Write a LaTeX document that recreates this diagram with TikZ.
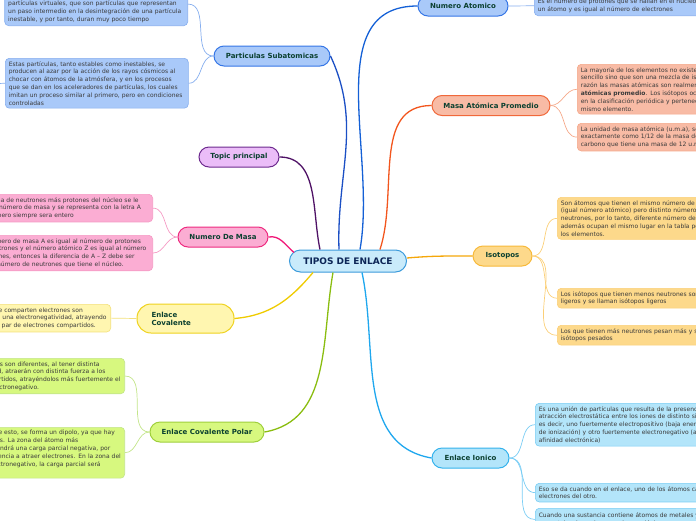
\documentclass[tikz,border=0pt]{standalone}
\usepackage{fontspec}
\setmainfont{DejaVu Sans}
\usepackage{xcolor}

\definecolor{centralfill}{HTML}{C9EBFB}
\definecolor{centralline}{HTML}{3C9BDB}
\definecolor{centraltext}{HTML}{0D2657}
\definecolor{titletext}{HTML}{0B4030}
\definecolor{notetext}{HTML}{3A3A3A}
\definecolor{psfill}{HTML}{A9C9F9}
\definecolor{psline}{HTML}{3576E6}
\definecolor{psbranch}{HTML}{1B4FC4}
\definecolor{pstwig}{HTML}{86AEEE}
\definecolor{nabranch}{HTML}{1460D6}
\definecolor{mafill}{HTML}{F8BBA5}
\definecolor{maline}{HTML}{F0683A}
\definecolor{mabranch}{HTML}{F2561E}
\definecolor{matwig}{HTML}{F5A889}
\definecolor{isofill}{HTML}{FDD98B}
\definecolor{isoline}{HTML}{F7B93A}
\definecolor{isobranch}{HTML}{F5A70A}
\definecolor{isotwig}{HTML}{FBCF78}
\definecolor{ionfill}{HTML}{B3E5FA}
\definecolor{ionline}{HTML}{34B2EC}
\definecolor{ionbranch}{HTML}{1FA7EE}
\definecolor{iontwig}{HTML}{7ACDF4}
\definecolor{tpfill}{HTML}{EBBDF8}
\definecolor{tpline}{HTML}{6D2A8E}
\definecolor{tpbranch}{HTML}{4F1266}
\definecolor{nmfill}{HTML}{FBADD3}
\definecolor{nmline}{HTML}{EE2A7F}
\definecolor{nmbranch}{HTML}{F01878}
\definecolor{nmtwig}{HTML}{F59AC4}
\definecolor{ecfill}{HTML}{FFF6B0}
\definecolor{ecline}{HTML}{EFD21E}
\definecolor{ecbranch}{HTML}{EFCB00}
\definecolor{ectwig}{HTML}{F3E07A}
\definecolor{cpfill}{HTML}{D7F87F}
\definecolor{cpline}{HTML}{9FCF3C}
\definecolor{cpbranch}{HTML}{8ABD10}
\definecolor{cptwig}{HTML}{C3E58A}

\begin{document}
\begin{tikzpicture}[x=1pt,y=-1pt]
\tikzset{topic/.style = {draw, rounded corners=10pt, line width=1pt, minimum height=20pt,
	inner sep=2pt, font=\fontsize{7}{8}\selectfont\bfseries, text=titletext}}
\tikzset{note/.style = {draw, rounded corners=4pt, line width=0.6pt, text width=176pt,
	align=left, inner xsep=3.5pt, inner ysep=3pt, font=\fontsize{6}{7.8}\selectfont, text=notetext}}
\tikzset{branch/.style = {-, line width=1.3pt}}
\tikzset{twig/.style = {-, line width=0.7pt}}
\useasboundingbox (0,0) rectangle (696,520);
\clip (0,0) rectangle (696,520);

% central topic
\node[topic, fill=centralfill, draw=centralline, text=centraltext, minimum width=117pt,
	minimum height=22pt, rounded corners=11pt, font=\fontsize{9}{10}\selectfont\bfseries] (tipos) at (348,261) {TIPOS DE ENLACE};

% main topics
\node[topic, fill=psfill, draw=psline, minimum width=116pt] (subat) at (272,56) {Particulas Subatomicas};
\node[topic, fill=psfill, draw=psline, minimum width=90pt] (natom) at (463,6) {Numero Atomico};
\node[topic, fill=mafill, draw=maline, minimum width=118pt] (masa) at (491,105.5) {Masa Atómica Promedio};
\node[topic, fill=isofill, draw=isoline, minimum width=59pt] (isot) at (502.5,256) {Isotopos};
\node[topic, fill=ionfill, draw=ionline, minimum width=77pt] (ionico) at (470.5,458) {Enlace Ionico};
\node[topic, fill=tpfill, draw=tpline, minimum width=80pt] (tprin) at (239,157) {Topic principal};
\node[topic, fill=nmfill, draw=nmline, minimum width=90pt] (nmasa) at (223,237) {Numero De Masa};
\node[topic, fill=ecfill, draw=ecline, minimum width=97pt, minimum height=29pt, rounded corners=14pt,
	text width=68pt, align=left] (coval) at (185.5,318.5) {Enlace\\Covalente};
\node[topic, fill=cpfill, draw=cpline, minimum width=114pt] (polar) at (207,432) {Enlace Covalente Polar};

% notes
\node[note, fill=psfill, draw=pstwig, anchor=south east] (ps1) at (188,26) {Además de estas partículas, que son estables,\\
existen otras partículas inestables, y las llamadas\\
partículas virtuales, que son partículas que representan\\
un paso intermedio en la desintegración de una partícula\\
inestable, y por tanto, duran muy poco tiempo};
\node[note, fill=psfill, draw=pstwig, anchor=north west] (ps2) at (5,58) {Estas partículas, tanto estables como inestables, se\\
producen al azar por la acción de los rayos cósmicos al\\
chocar con átomos de la atmósfera, y en los procesos\\
que se dan en los aceleradores de partículas, los cuales\\
imitan un proceso similar al primero, pero en condiciones\\
controladas};
\coordinate (psstub) at (-14,84);
\node[note, fill=psfill, draw=pstwig, anchor=south west] (na1) at (534,16) {Es el número de protones que se hallan en el núcleo de\\
un átomo y es igual al número de electrones};
\node[note, fill=mafill, draw=matwig, anchor=north west] (ma1) at (577,64) {La mayoría de los elementos no existen como un isótopo\\
sencillo sino que son una mezcla de isótopos. Por esta\\
razón las masas atómicas son realmente \textbf{masas}\\
\textbf{atómicas promedio}. Los isótopos ocupan el mismo\\
en la clasificación periódica y pertenecen al\\
mismo elemento.};
\node[note, fill=mafill, draw=matwig, anchor=north west] (ma2) at (577,123) {La unidad de masa atómica (u.m.a), se define\\
exactamente como 1/12 de la masa de un átomo de\\
carbono que tiene una masa de 12 u.m.a.};
\node[note, fill=isofill, draw=isotwig, anchor=north west] (is1) at (557,197) {Son átomos que tienen el mismo número de protones\\
(igual número atómico) pero distinto número de\\
neutrones, por lo tanto, diferente número de masa,\\
además ocupan el mismo lugar en la tabla periódica de\\
los elementos.};
\node[note, fill=isofill, draw=isotwig, anchor=north west] (is2) at (557,288) {Los isótopos que tienen menos neutrones son más\\
ligeros y se llaman isótopos ligeros};
\node[note, fill=isofill, draw=isotwig, anchor=north west] (is3) at (557,325) {Los que tienen más neutrones pesan más y se llaman\\
isótopos pesados};
\node[note, fill=ionfill, draw=iontwig, anchor=north west] (ei1) at (535,403) {Es una unión de partículas que resulta de la presencia de\\
atracción electrostática entre los iones de distinto signo,\\
es decir, uno fuertemente electropositivo (baja energía\\
de ionización) y otro fuertemente electronegativo (alta\\
afinidad electrónica)};
\node[note, fill=ionfill, draw=iontwig, anchor=north west] (ei2) at (535,483) {Eso se da cuando en el enlace, uno de los átomos capta\\
electrones del otro.};
\node[note, fill=ionfill, draw=iontwig, anchor=north west, inner ysep=4.5pt] (ei3) at (535,508) {Cuando una sustancia contiene átomos de metales y\\
no metales, los enlaces suelen ser iónicos.};
\node[note, fill=nmfill, draw=nmtwig, anchor=north east] (nm1) at (153,194) {Si la suma de neutrones más protones del núcleo se le\\
llama el número de masa y se representa con la letra A\\
este número siempre sera entero};
\node[note, fill=nmfill, draw=nmtwig, anchor=north east] (nm2) at (153,235) {Si el número de masa A es igual al número de protones\\
más neutrones y el número atómico Z es igual al número\\
de protones, entonces la diferencia de A – Z debe ser\\
igual al número de neutrones que tiene el núcleo.};
\node[note, fill=ecfill, draw=ectwig, anchor=north east] (ec1) at (111,304) {Cuando los átomos que comparten electrones son\\
iguales, ambos poseen una electronegatividad, atrayendo\\
con la misma fuerza el par de electrones compartidos.};
\node[note, fill=cpfill, draw=cptwig, anchor=north east] (cp1) at (125,358) {Cuando los átomos son diferentes, al tener distinta\\
electronegatividad, atraerán con distinta fuerza a los\\
electrones compartidos, atrayéndolos más fuertemente el\\
elemento más electronegativo.};
\node[note, fill=cpfill, draw=cptwig, anchor=north east] (cp2) at (125,427) {Como resultado de esto, se forma un dipolo, ya que hay\\
dos polos opuestos. La zona del átomo más\\
electronegativo tendrá una carga parcial negativa, por\\
tener mayor tendencia a atraer electrones. En la zona del\\
átomo menos electronegativo, la carga parcial será\\
positiva.};

% branches
\draw[branch, psbranch] (subat.east) edge[out=-65, in=92] ([xshift=-9pt]tipos.north);
\draw[branch, nabranch] (natom.west) edge[out=180, in=80] ([xshift=12pt]tipos.north);
\draw[branch, mabranch] (masa.west) edge[out=180, in=72] ([xshift=32pt]tipos.north);
\draw[branch, isobranch] (isot.west) edge[out=180, in=5] ([yshift=3pt]tipos.east);
\draw[branch, ionbranch] (ionico.west) edge[out=170, in=-78] ([xshift=14pt]tipos.south);
\draw[branch, tpbranch] (tprin.east) edge[out=0, in=102] ([xshift=-28pt]tipos.north);
\draw[branch, nmbranch] (nmasa.east) edge[out=10, in=140] ([xshift=5pt,yshift=-3pt]tipos.north west);
\draw[branch, ecbranch] (coval.east) edge[out=5, in=-130] ([xshift=-35pt]tipos.south);
\draw[branch, cpbranch] (polar.east) edge[out=10, in=-100] ([xshift=-15pt]tipos.south);

% twigs
\draw[twig, pstwig] (subat.west) edge[out=180, in=0] (ps1.east);
\draw[twig, pstwig] (subat.west) edge[out=180, in=0] (ps2.east);
\draw[twig, pstwig] (ps2.west) -- (psstub);
\draw[twig, pstwig] (natom.east) edge (na1.west);
\draw[twig, matwig] (masa.east) edge[out=0, in=180] (ma1.west);
\draw[twig, matwig] (masa.east) edge[out=0, in=180] (ma2.west);
\draw[twig, isotwig] (isot.east) edge[out=0, in=180] (is1.west);
\draw[twig, isotwig] (isot.east) edge[out=0, in=180] (is2.west);
\draw[twig, isotwig] (isot.east) edge[out=0, in=180] (is3.west);
\draw[twig, iontwig] (ionico.east) edge[out=0, in=180] (ei1.west);
\draw[twig, iontwig] (ionico.east) edge[out=0, in=180] (ei2.west);
\draw[twig, iontwig] (ionico.east) edge[out=0, in=180] (ei3.west);
\draw[twig, nmtwig] (nmasa.west) edge[out=180, in=0] (nm1.east);
\draw[twig, nmtwig] (nmasa.west) edge[out=180, in=0] (nm2.east);
\draw[twig, ectwig] (coval.west) edge (ec1.east);
\draw[twig, cptwig] (polar.west) edge[out=180, in=0] (cp1.east);
\draw[twig, cptwig] (polar.west) edge[out=180, in=0] (cp2.east);
\end{tikzpicture}
\end{document}
